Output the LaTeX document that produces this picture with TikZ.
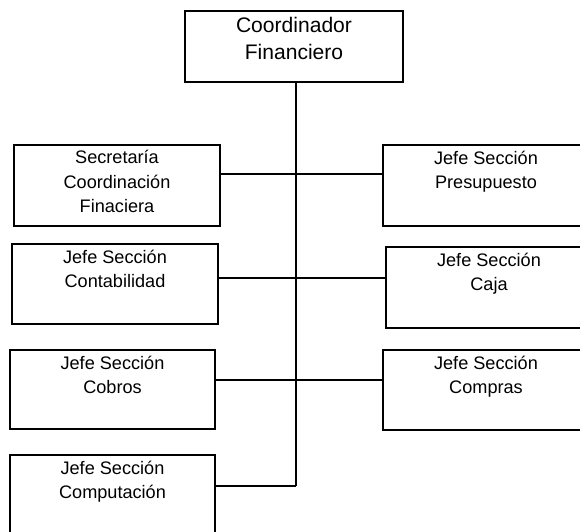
\documentclass[tikz,border=0pt]{standalone}
\usepackage{fontspec}
\setmainfont{Liberation Sans}
\usetikzlibrary{calc}
\begin{document}
\begin{tikzpicture}[x=0.75pt,y=-0.75pt,
  box/.style={draw, line width=1.2pt, rectangle, inner sep=0pt},
  wire/.style={line width=1.2pt},
  % the base anchor of a multi-line caption sits on its last line
  txt/.style={align=center, inner sep=0pt, anchor=base,
    font=\fontsize{13.6}{18.4}\selectfont},
  toptxt/.style={txt, font=\fontsize{15.8}{20}\selectfont},
]
\useasboundingbox (0,0) rectangle (580,531);
\clip (0,0) rectangle (580,531);

% boxes of the chart
\node[box, minimum width=218*0.75pt, minimum height=71*0.75pt] (coord) at (294,46.5) {};
\node[box, minimum width=206*0.75pt, minimum height=81*0.75pt] (sec)   at (117,185.5) {};
\node[box, minimum width=206*0.75pt, minimum height=80*0.75pt] (cont)  at (115,284) {};
\node[box, minimum width=205*0.75pt, minimum height=79*0.75pt] (cob)   at (112.5,389.5) {};
\node[box, minimum width=205*0.75pt, minimum height=80*0.75pt] (comp)  at (112.5,495) {};
\node[box, minimum width=206*0.75pt, minimum height=81*0.75pt] (pres)  at (486,185.5) {};
\node[box, minimum width=206*0.75pt, minimum height=81*0.75pt] (caja)  at (489,287.5) {};
\node[box, minimum width=206*0.75pt, minimum height=80*0.75pt] (compr) at (486,390) {};

% box captions, set near the top edge
\node[toptxt] (tcoord) at ($(coord.north)+(0,49)$)  {Coordinador\\Financiero};
\node[txt] (tsec)   at ($(sec.north)+(0,68.5)$)  {Secretaría\\Coordinación\\Finaciera};
\node[txt] (tcont)  at ($(cont.north)+(0,44.5)$)  {Jefe Sección\\Contabilidad};
\node[txt] (tcob)   at ($(cob.north)+(0,44.5)$)   {Jefe Sección\\Cobros};
\node[txt] (tcomp)  at ($(comp.north)+(0,44.5)$)  {Jefe Sección\\Computación};
\node[txt] (tpres)  at ($(pres.north)+(0,44.5)$)  {Jefe Sección\\Presupuesto};
\node[txt] (tcaja)  at ($(caja.north)+(0,44.5)$)  {Jefe Sección\\Caja};
\node[txt] (tcompr) at ($(compr.north)+(0,44.5)$) {Jefe Sección\\Compras};

% junctions on the central spine
\coordinate (j1) at (296,174);
\coordinate (j2) at (296,278);
\coordinate (j3) at (296,380);
\coordinate (j4) at (296,486);

% spine and branches
\draw[wire] (coord.south -| j4) -- (j4);
\draw[wire] (sec.east |- j1) -- (pres.west |- j1);
\draw[wire] (cont.east |- j2) -- (caja.west |- j2);
\draw[wire] (cob.east |- j3) -- (compr.west |- j3);
\draw[wire] (comp.east |- j4) -- (j4);
\end{tikzpicture}
\end{document}
